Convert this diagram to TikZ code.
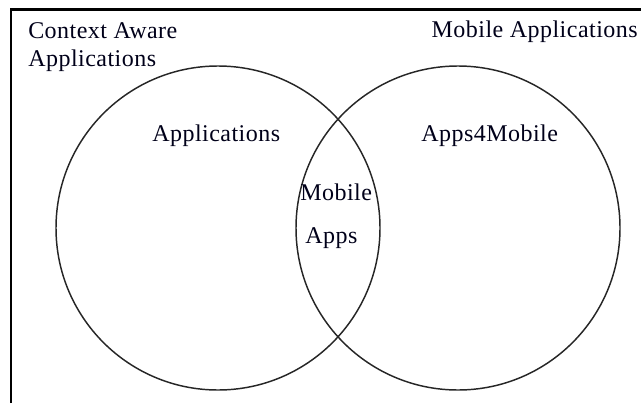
\documentclass[tikz,border=0pt]{standalone}
\usepackage{fontspec}
\setmainfont[LetterSpace=2.0]{Liberation Serif}
\begin{document}
\begin{tikzpicture}[x=0.75pt,y=-0.75pt,
  lbl/.style={anchor=base west,inner sep=0pt,font=\fontsize{18}{21}\selectfont,text=black!90!blue},
  setc/.style={draw=black!85,line width=1.1pt,circle,minimum size=243pt,inner sep=0pt},
  frameline/.style={draw=black,line width=1.6pt}]
\useasboundingbox (0,0) rectangle (641,403);
\coordinate (fb) at (11,403);
\coordinate (fc) at (11,9.5);
\coordinate (fr) at (641,9.5);
\draw[frameline] (fb) -- (fc) -- (fr);
\node[setc] (ca) at (218,228) {};
\node[setc] (ma) at (458,228) {};
\node[lbl] (t1) at (28,39) {Context Aware};
\node[lbl] (t2) at (28,66) {Applications};
\node[lbl,anchor=base east] (t3) at (638,38) {Mobile Applications};
\node[lbl] (t4) at (152,141) {Applications};
\node[lbl] (t5) at (421,141) {Apps4Mobile};
\node[lbl] (t6) at (300,200) {Mobile};
\node[lbl] (t7) at (305,243) {Apps};
\end{tikzpicture}
\end{document}
